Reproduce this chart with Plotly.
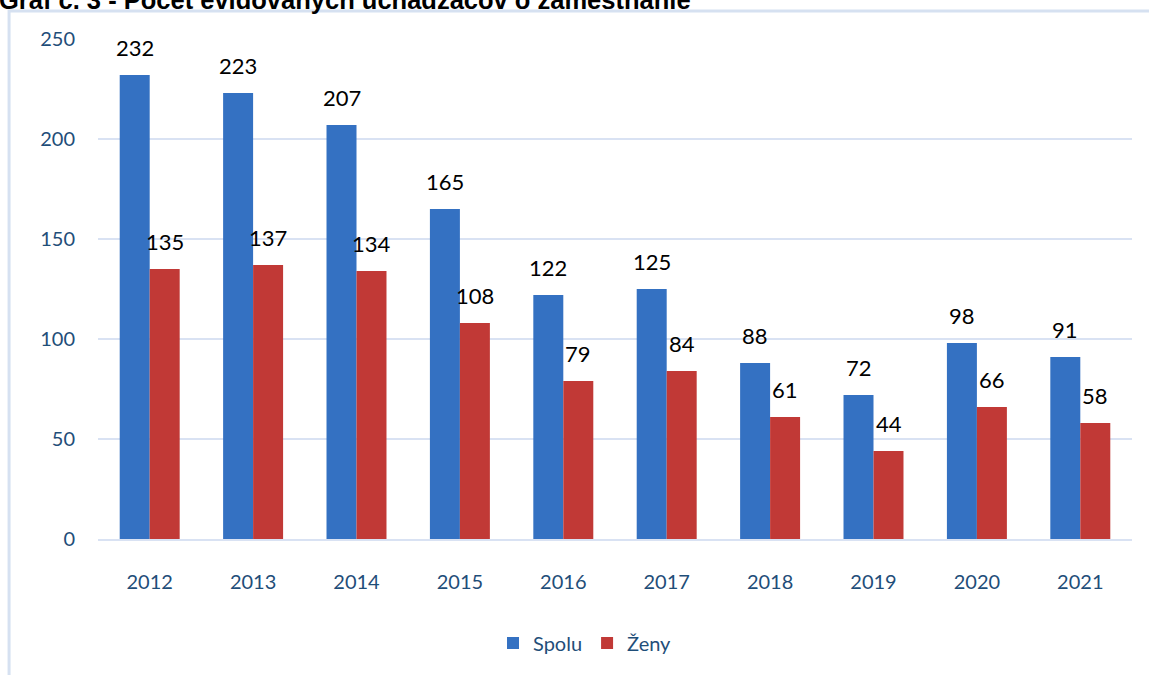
import plotly.graph_objects as go

years = ["2012", "2013", "2014", "2015", "2016", "2017", "2018", "2019", "2020", "2021"]
spolu = [232, 223, 207, 165, 122, 125, 88, 72, 98, 91]
zeny = [135, 137, 134, 108, 79, 84, 61, 44, 66, 58]
title_text = "Graf č. 3 - Počet evidovaných uchádzačov o zamestnanie"

font_family = "Lato, Calibri, sans-serif"
axis_color = "#1F4E79"
grid_color = "#D9E2F3"

fig = go.Figure()
fig.add_trace(go.Bar(x=years, y=spolu, name="Spolu",
                     marker=dict(color="#3471C2", line=dict(width=0))))
fig.add_trace(go.Bar(x=years, y=zeny, name="Ženy",
                     marker=dict(color="#C13936", line=dict(width=0))))

# value labels above the bars (category index as x, so numeric-looking
# year strings are not read as coordinates)
for vals, dx in [(spolu, -15), (zeny, 15)]:
    for i, v in enumerate(vals):
        fig.add_annotation(x=i, y=v, text=str(v), showarrow=False,
                           xanchor="center", yanchor="bottom", xshift=dx, yshift=12,
                           font=dict(size=22, color="black", family=font_family))

# frame around the chart, partly outside the page like in the original
fig.add_shape(type="rect", xref="paper", yref="paper",
              x0=-0.086, x1=1.2, y0=-0.6, y1=1.056,
              line=dict(color="#D6E1F1", width=3), layer="below")

# title cut by the top edge of the page
fig.add_annotation(text="<b>" + title_text + "</b>", xref="paper", yref="paper",
                   x=-0.098, y=1.046, xanchor="left", yanchor="bottom",
                   showarrow=False,
                   font=dict(size=25.5, color="black", family="'Liberation Sans', Arial, sans-serif"))

fig.update_layout(
    width=1149, height=675,
    margin=dict(l=98, r=17, t=39, b=136),
    paper_bgcolor="white", plot_bgcolor="white",
    barmode="group", bargap=0.42, bargroupgap=0,
    font=dict(family=font_family, size=20, color=axis_color),
    showlegend=True,
    legend=dict(orientation="h", x=0.471, y=-0.208, xanchor="center", yanchor="middle",
                font=dict(size=20, color=axis_color), itemwidth=30, traceorder="normal"),
)
fig.update_xaxes(type="category", range=[-0.5, len(years) - 0.5],
                 showline=True, linecolor=grid_color, linewidth=2, ticks="",
                 tickfont=dict(size=20, color=axis_color), ticklabelstandoff=24)
fig.update_yaxes(range=[0, 250], dtick=50, showgrid=True, gridcolor=grid_color, gridwidth=2,
                 zeroline=False, showline=False, ticks="",
                 tickfont=dict(size=20, color=axis_color), ticklabelstandoff=22)

fig.write_html("out.html", config={"displayModeBar": False},
               post_script="document.body.style.margin='0';")
